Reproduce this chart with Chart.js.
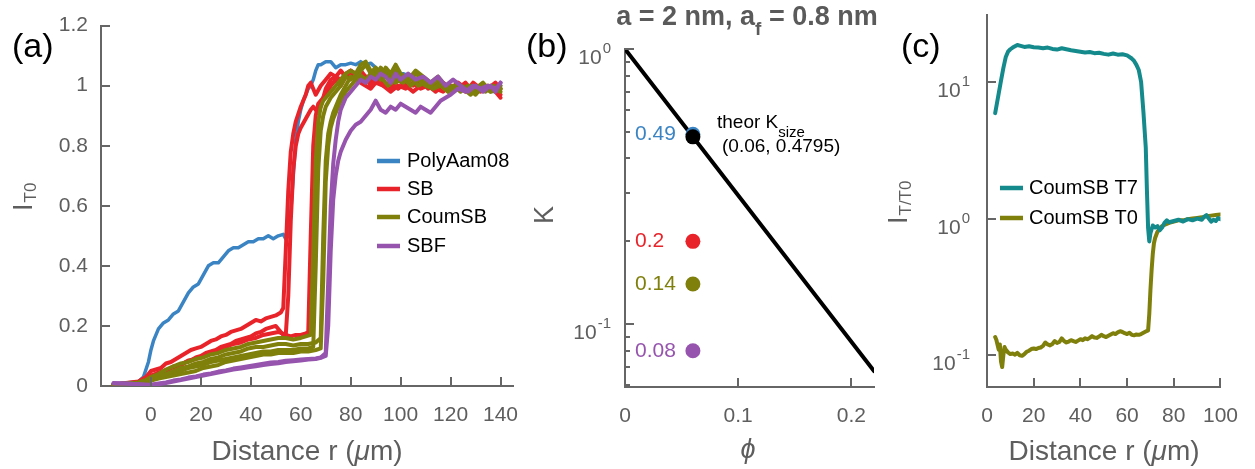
<!DOCTYPE html>
<html>
<head>
<meta charset="utf-8">
<script src="https://cdn.jsdelivr.net/npm/chart.js@4.4.1/dist/chart.umd.min.js"></script>
<style>
  html, body { margin: 0; padding: 0; background: #fff; }
  #wrap { position: relative; width: 1255px; height: 469px; }
  #wrap canvas { position: absolute; left: 0; top: 0; }
</style>
</head>
<body>
<div id="wrap">
  <canvas id="panelA" width="1255" height="469"></canvas>
  <canvas id="panelB" width="1255" height="469"></canvas>
  <canvas id="panelC" width="1255" height="469"></canvas>
</div>
<script>
// ===== Estilo común =====
const FONT = '"Liberation Sans", Arial, Helvetica, sans-serif';
const AXIS_GREY = '#666666';
const TEXT_GREY = '#5e5e5e';

const colBlue = '#3b84c4';
const colRed = '#e8232a';
const colOlive = '#7f7f0c';
const colPurple = '#9654ae';
const colTeal = '#148a8c';

// ===== (a) perfiles normalizados I_T0 =====
const aXTicks = [0, 20, 40, 60, 80, 100, 120, 140];
const aYTicks = [0, 0.2, 0.4, 0.6, 0.8, 1, 1.2];
const aLabels = ['PolyAam08', 'SB', 'CoumSB', 'SBF'];
const aColors = [colBlue, colRed, colOlive, colPurple];

const polyX = [-15, -10, -5, -3, -1, 0, 1, 2, 3, 5, 7, 9, 11, 13, 15, 17, 19, 21, 23, 25, 27, 29, 31, 33, 35, 37, 39, 41, 43, 45, 47, 49, 51, 53,
  54, 55, 56, 57, 58, 59, 60, 61, 62, 63, 64, 65, 66, 67, 68, 70, 72, 74, 76, 78, 80, 82, 84, 86, 88, 90, 92,
  95, 98, 101, 104, 107, 110, 113, 116, 119, 122, 125, 128, 131, 134, 137, 140];
const polyY = [0.005, 0.01, 0.015, 0.03, 0.08, 0.12, 0.15, 0.17, 0.19,
  0.21, 0.22, 0.24, 0.25, 0.28, 0.31, 0.33, 0.34, 0.37, 0.40, 0.41, 0.41, 0.43, 0.45, 0.46, 0.46, 0.47, 0.48, 0.48, 0.49, 0.49, 0.50, 0.49, 0.50, 0.505,
  0.49, 0.50, 0.58, 0.70, 0.82, 0.88, 0.92, 0.95, 0.97, 0.99, 1.00, 1.02, 1.05, 1.07, 1.07,
  1.08, 1.08, 1.06, 1.07, 1.07, 1.075, 1.07, 1.08, 1.07, 1.075, 1.06, 1.05,
  1.04, 1.03, 1.04, 1.03, 1.02, 1.01, 1.00, 1.01, 0.99, 1.00, 0.99, 0.98, 1.00, 0.99, 0.98, 1.00];

const sb1X = [-15, -10, -5, -2, 0, 2, 4, 6, 8, 10, 12, 14, 16, 18, 20, 22, 24, 26, 28, 30, 32, 34, 36, 38, 40, 42, 44, 46, 48, 50, 52,
  53, 54, 55, 56, 57, 58, 60, 62, 63, 64, 65, 66, 68, 70, 72, 74, 76, 78, 80, 82, 84, 86, 88, 90,
  93, 96, 99, 102, 105, 108, 111, 114, 117, 120, 123, 126, 129, 132, 135, 138, 140];
const sb1Y = [0.005, 0.01, 0.015, 0.03,
  0.05, 0.055, 0.06, 0.075, 0.08, 0.09, 0.10, 0.11, 0.12, 0.125, 0.13, 0.14, 0.15, 0.155, 0.165, 0.17, 0.18, 0.185, 0.19, 0.20, 0.21, 0.22, 0.215, 0.225, 0.23, 0.235, 0.245,
  0.26, 0.45, 0.65, 0.78, 0.84, 0.88, 0.93, 0.97, 1.00, 1.01, 0.99, 0.97,
  1.00, 1.02, 1.04, 1.03, 1.05, 1.03, 1.05, 1.04, 1.02, 1.03, 1.00, 1.02,
  1.00, 1.01, 0.99, 1.01, 1.00, 1.02, 0.99, 1.00, 1.01, 0.99, 1.00, 0.98, 1.01, 0.99, 1.00, 0.98, 0.97];

const sb2X = [-15, -10, -5, -2, 0, 2, 4, 6, 8, 10, 12, 14, 16, 18, 20, 22, 24, 26, 28, 30, 32, 34, 36, 38, 40, 42, 44, 46, 48, 50, 52,
  53, 54, 55, 56, 57, 58, 59, 60, 62, 64, 65, 66, 67, 68, 69, 70, 72, 74, 76, 78, 80, 82, 84, 86, 88, 90,
  93, 96, 99, 102, 105, 108, 111, 114, 117, 120, 123, 126, 129, 132, 135, 138, 140];
const sb2Y = [0.005, 0.008, 0.012, 0.02,
  0.035, 0.04, 0.045, 0.05, 0.06, 0.065, 0.07, 0.08, 0.085, 0.095, 0.10, 0.11, 0.115, 0.12, 0.13, 0.135, 0.14, 0.15, 0.155, 0.16, 0.165, 0.175, 0.18, 0.19, 0.195, 0.20, 0.18,
  0.17, 0.17, 0.30, 0.55, 0.72, 0.80, 0.84, 0.86, 0.89, 0.92, 0.93, 0.92, 0.91, 0.93, 0.96, 0.99,
  1.02, 1.03, 1.02, 1.04, 1.05, 1.03, 1.01, 1.00, 0.99, 1.01,
  1.00, 0.98, 1.00, 0.99, 1.01, 0.99, 1.00, 0.98, 1.00, 0.99, 1.01, 0.99, 1.00, 0.98, 0.99, 0.98, 0.96];

const sb3X = [-15, -10, -5, -2, 0, 3, 6, 9, 12, 15, 18, 21, 24, 27, 30, 33, 36, 39, 42, 45, 48, 51, 54,
  56, 58, 60, 62, 63, 64, 65, 66, 67, 68, 70, 72, 74, 76, 78, 80, 82, 84, 86, 88, 90,
  93, 96, 99, 102, 105, 108, 111, 114, 117, 120, 123, 126, 129, 132, 135, 138, 140];
const sb3Y = [0.005, 0.008, 0.01, 0.02,
  0.03, 0.045, 0.05, 0.065, 0.07, 0.085, 0.09, 0.10, 0.11, 0.12, 0.13, 0.14, 0.145, 0.155, 0.16, 0.17, 0.175, 0.18, 0.17,
  0.165, 0.17, 0.17, 0.175, 0.18, 0.50, 0.80, 0.90, 0.94, 0.95,
  0.97, 1.00, 1.02, 1.00, 1.03, 1.04, 1.02, 1.05, 1.03, 1.01, 1.03,
  1.01, 0.99, 1.02, 1.00, 0.98, 1.00, 1.01, 0.99, 0.98, 1.00, 0.99, 1.01, 0.98, 1.00, 0.99, 1.01, 0.99];

const coum1X = [-15, -10, -5, -2, 0, 3, 6, 9, 12, 15, 18, 21, 24, 27, 30, 33, 36, 39, 42, 45, 48, 51, 54, 57, 60,
  62, 64, 65, 66, 67, 68, 69, 70, 72, 74, 76, 78, 80, 82, 84, 86, 88, 90, 92, 94, 96, 98, 100,
  103, 106, 109, 112, 115, 118, 121, 124, 127, 130, 133, 136, 140];
const coum1Y = [0.005, 0.008, 0.012, 0.02,
  0.03, 0.04, 0.055, 0.065, 0.075, 0.08, 0.09, 0.095, 0.105, 0.11, 0.12, 0.125, 0.13, 0.14, 0.145, 0.15, 0.155, 0.16, 0.16, 0.155, 0.16,
  0.165, 0.17, 0.45, 0.75, 0.88, 0.93, 0.95, 0.96,
  0.98, 1.00, 1.02, 1.04, 1.05, 1.04, 1.07, 1.08, 1.05, 1.03, 1.06, 1.04, 1.02, 1.05, 1.03,
  1.01, 1.04, 1.02, 1.00, 1.02, 0.99, 1.00, 0.98, 1.00, 0.99, 1.01, 0.98, 0.99];

const coum2X = [-15, -10, -5, -2, 0, 3, 6, 9, 12, 15, 18, 21, 24, 27, 30, 33, 36, 39, 42, 45, 48, 51, 54, 57, 60, 63, 66,
  68, 69, 70, 71, 72, 73, 74, 76, 78, 80, 82, 84, 86, 88, 90, 92, 94, 96, 98, 100,
  103, 106, 109, 112, 115, 118, 121, 124, 127, 130, 133, 136, 140];
const coum2Y = [0.005, 0.008, 0.01, 0.015,
  0.025, 0.035, 0.04, 0.05, 0.06, 0.065, 0.075, 0.08, 0.09, 0.095, 0.105, 0.11, 0.115, 0.125, 0.13, 0.13, 0.135, 0.14, 0.14, 0.135, 0.14, 0.14, 0.145,
  0.16, 0.50, 0.75, 0.84, 0.88, 0.91, 0.93,
  0.97, 1.00, 1.03, 1.02, 1.05, 1.07, 1.04, 1.06, 1.03, 1.06, 1.04, 1.07, 1.04,
  1.02, 1.05, 1.03, 1.01, 1.03, 1.00, 0.98, 1.00, 0.99, 0.97, 1.00, 0.98, 1.00];

const coum3X = [-15, -10, -5, -2, 0, 3, 6, 9, 12, 15, 18, 21, 24, 27, 30, 33, 36, 39, 42, 45, 48, 51, 54, 57, 60, 63,
  65, 66, 67, 68, 69, 70, 72, 74, 76, 78, 80,
  83, 86, 89, 92, 95, 98, 101, 104, 107, 110, 113, 116, 119, 122, 125, 128, 131, 134, 137, 140];
const coum3Y = [0.005, 0.008, 0.01, 0.015,
  0.02, 0.03, 0.035, 0.045, 0.05, 0.06, 0.065, 0.07, 0.08, 0.085, 0.09, 0.095, 0.10, 0.105, 0.11, 0.115, 0.115, 0.12, 0.12, 0.12, 0.125, 0.125,
  0.13, 0.40, 0.72, 0.85, 0.90, 0.93,
  0.96, 0.98, 1.00, 1.03, 1.02,
  1.04, 1.02, 1.05, 1.02, 1.04, 1.01, 1.03, 1.00, 1.02, 1.00, 0.99, 1.01, 0.98, 1.00, 0.99, 1.00, 0.98, 1.00, 0.99, 0.98];

const coum4X = [-15, -10, -5, -2, 0, 3, 6, 9, 12, 15, 18, 21, 24, 27, 30, 33, 36, 39, 42, 45, 48, 51, 54, 57, 60, 63, 66,
  68, 69, 70, 71, 72, 73, 74, 76, 78, 80,
  83, 86, 89, 92, 95, 98, 101, 104, 107, 110, 113, 116, 119, 122, 125, 128, 131, 134, 137, 140];
const coum4Y = [0.004, 0.006, 0.008, 0.012,
  0.018, 0.025, 0.03, 0.035, 0.04, 0.045, 0.05, 0.06, 0.065, 0.07, 0.08, 0.085, 0.09, 0.095, 0.10, 0.105, 0.105, 0.11, 0.11, 0.11, 0.115, 0.115, 0.12,
  0.125, 0.35, 0.68, 0.80, 0.86, 0.89, 0.91, 0.95, 0.98, 1.00,
  1.03, 1.01, 1.04, 1.03, 1.00, 1.02, 1.01, 1.03, 1.00, 1.01, 0.99, 1.00, 0.98, 1.00, 0.99, 0.97, 0.99, 0.98, 1.00, 0.99];

const sbf1X = [-15, -10, -5, -2, 0, 3, 6, 9, 12, 15, 18, 21, 24, 27, 30, 33, 36, 39, 42, 45, 48, 51, 54, 57, 60, 63, 66,
  68, 70, 71, 72, 73, 74, 75, 76, 78, 80, 82, 84, 86, 88, 90, 92, 94, 96, 98, 100,
  103, 106, 109, 112, 115, 118, 121, 124, 127, 130, 133, 136, 138, 140];
const sbf1Y = [0.008, 0.008, 0.006, 0.004,
  0.004, 0.008, 0.012, 0.018, 0.022, 0.028, 0.032, 0.038, 0.042, 0.048, 0.052, 0.058, 0.062, 0.066, 0.070, 0.074, 0.078, 0.080, 0.084, 0.086, 0.088, 0.090, 0.092,
  0.095, 0.11, 0.35, 0.60, 0.74, 0.82, 0.88, 0.92,
  0.96, 0.98, 1.00, 1.02, 1.01, 1.03, 1.02, 1.04, 1.03, 1.01, 1.04, 1.02,
  1.04, 1.02, 1.03, 1.01, 1.03, 1.00, 1.02, 1.00, 0.98, 1.00, 0.98, 1.00, 0.98, 1.01];

const sbf2X = [-15, -10, -5, -2, 0, 3, 6, 9, 12, 15, 18, 21, 24, 27, 30, 33, 36, 39, 42, 45, 48, 51, 54, 57, 60, 63, 66,
  68, 70, 71, 72, 73, 74, 75, 76, 77, 78,
  80, 82, 84, 86, 88, 90, 92, 94, 96, 98, 100, 102, 104, 106, 108, 110, 112, 114, 116, 118, 120,
  123, 126, 129, 132, 135, 138, 140];
const sbf2Y = [0.01, 0.008, 0.006, 0.004,
  0.003, 0.006, 0.01, 0.015, 0.02, 0.025, 0.03, 0.035, 0.04, 0.045, 0.05, 0.055, 0.058, 0.062, 0.066, 0.07, 0.073, 0.076, 0.08, 0.082, 0.085, 0.088, 0.09,
  0.094, 0.10, 0.20, 0.45, 0.62, 0.70, 0.75, 0.78, 0.80, 0.82,
  0.85, 0.87, 0.88, 0.90, 0.92, 0.95, 0.92, 0.91, 0.93, 0.92, 0.94, 0.93, 0.92, 0.91, 0.93, 0.92, 0.91, 0.93, 0.95, 0.96, 0.97,
  0.99, 0.98, 1.00, 0.99, 1.00, 0.99, 1.01];

// ===== (b) coeficiente de partición K frente a phi =====
const bXTicks = [0, 0.1, 0.2];
const bYMajor = [0.1, 1];
const bYMinor = [0.06, 0.07, 0.08, 0.09, 0.2, 0.3, 0.4, 0.5, 0.6, 0.7, 0.8, 0.9];
const bLinePhi = [0, 0.22];
const bLineK = [1, 0.0675];
const bPhi = [0.06, 0.06, 0.06, 0.06];
const bK = [0.49, 0.2, 0.14, 0.08];
const bColors = [colBlue, colRed, colOlive, colPurple];
const theorPhi = 0.06;
const theorK = 0.4795;

// ===== (c) CoumSB T7 / T0 =====
const cXTicks = [0, 20, 40, 60, 80, 100];
const cYMajor = [0.1, 1, 10];
const cLabels = ['CoumSB T7', 'CoumSB T0'];
const cColors = [colTeal, colOlive];

const t7X = [3.5, 5, 6, 7, 8, 9, 10, 11, 12, 13, 14,
  16, 18, 20, 22, 24, 26, 28, 30, 32, 34, 36, 38, 40, 42, 44, 46, 48, 50, 52, 54, 56, 58, 60, 62,
  63, 64, 65, 66, 67, 68, 68.5, 69, 69.5, 70, 71, 72, 73, 74, 75, 76, 77, 78,
  80, 82, 84, 86, 88, 90, 92, 93, 94, 95, 96, 97, 98, 99, 100];
const t7Y = [5.9, 8.2, 10.2, 12.6, 15.1, 16.6, 17.3, 17.8, 18.2, 18.6, 18.4,
  18.0, 18.2, 17.9, 17.8, 17.6, 17.8, 17.4, 17.2, 17.6, 17.3, 17.0, 16.8, 16.6, 16.4, 16.5, 16.2, 16.3, 16.0, 15.8, 16.1, 15.8, 15.9, 15.6, 14.8,
  14.2, 13.3, 12.2, 10.0, 6.0, 3.3, 1.6, 0.85, 0.68, 0.78, 0.89, 0.86, 0.88, 0.82, 0.86, 0.93, 0.97, 0.94,
  0.96, 0.98, 0.95, 0.99, 0.97, 1.00, 0.98, 1.03, 1.06, 1.00, 0.95, 0.98, 0.96, 1.01, 0.99];

const t0X = [3.5, 4, 5, 5.5, 6, 6.5, 7, 7.5, 8,
  9, 10, 11, 12, 13, 14, 15, 16, 17, 18, 19, 20, 21, 22, 23, 24, 25, 26, 27, 28, 29, 30,
  31, 32, 33, 34, 35, 36, 37, 38, 39, 40, 41, 42, 43, 44, 45, 46, 47, 48, 49, 50,
  51, 52, 53, 54, 55, 56, 57, 58, 59, 60, 61, 62, 63, 64, 65, 66, 67, 68, 69,
  69.5, 70, 70.5, 71, 71.5, 72, 73, 74, 75, 76,
  78, 80, 82, 84, 86, 88, 90, 92, 94, 96, 98, 100];
const t0Y = [0.136, 0.13, 0.11, 0.12, 0.09, 0.082, 0.10, 0.115, 0.11,
  0.105, 0.102, 0.103, 0.101, 0.104, 0.10, 0.099, 0.102, 0.106, 0.108, 0.111, 0.112,
  0.111, 0.113, 0.114, 0.117, 0.124, 0.12, 0.118, 0.121, 0.127, 0.123,
  0.125, 0.133, 0.127, 0.124, 0.126, 0.129, 0.127, 0.125, 0.128, 0.131,
  0.129, 0.133, 0.131, 0.134, 0.138, 0.135, 0.134, 0.137, 0.141, 0.138,
  0.136, 0.139, 0.142, 0.145, 0.143, 0.147, 0.15, 0.148, 0.145, 0.143,
  0.146, 0.141, 0.14, 0.142, 0.141, 0.143, 0.146, 0.149, 0.152,
  0.2, 0.3, 0.42, 0.55, 0.66, 0.72, 0.8, 0.85, 0.88, 0.9,
  0.93, 0.95, 0.97, 0.97, 0.99, 1.0, 1.01, 1.02, 1.04, 1.05, 1.06, 1.07];

// ===== Utilidades =====
const pts = (xs, ys) => xs.map((x, i) => ({ x, y: ys[i] }));
const font = (size, style = '') => `${style} ${size}px ${FONT}`.trim();

// caja del área de trazado: el eje y ocupa 60px y el eje x 40px
function frame(left, top, right, bottom) {
  return { left: left - 60, top, right: 1255 - right, bottom: 469 - bottom - 40 };
}

function put(ctx, s, x, y, size, color, align = 'left', style = '', baseline = 'alphabetic') {
  ctx.font = font(size, style);
  ctx.fillStyle = color;
  ctx.textAlign = align;
  ctx.textBaseline = baseline;
  ctx.fillText(s, x, y);
  return ctx.measureText(s).width;
}

function axisBase(isX) {
  return {
    grid: { display: false, drawTicks: false },
    border: { display: true, color: AXIS_GREY, width: 2 },
    afterFit: s => { if (isX) s.height = 40; else s.width = 60; }
  };
}

function linearAxis(isX, min, max, values, pad) {
  return Object.assign(axisBase(isX), {
    type: 'linear', min, max,
    afterBuildTicks: s => { s.ticks = values.map(v => ({ value: v })); },
    ticks: {
      color: TEXT_GREY, font: { family: FONT, size: 21 }, padding: pad,
      autoSkip: false, maxRotation: 0, callback: v => String(v)
    }
  });
}

function logAxis(min, max, values) {
  return Object.assign(axisBase(false), {
    type: 'logarithmic', min, max,
    afterBuildTicks: s => { s.ticks = values.map(v => ({ value: v })); },
    ticks: { display: false }
  });
}

function lineSet(xs, ys, color, order, width = 4) {
  return { data: pts(xs, ys), borderColor: color, borderWidth: width, pointRadius: 0, fill: false, order };
}

// marcas de los ejes hacia dentro (estilo MATLAB)
function inwardTicks(cfg) {
  return {
    id: 'inwardTicks',
    afterDraw(chart) {
      const { ctx, chartArea: a } = chart;
      const xs = chart.scales.x, ys = chart.scales.y;
      const segs = [];
      cfg.x.forEach(v => {
        const px = Math.round(xs.getPixelForValue(v));
        segs.push([px, a.bottom, px, a.bottom - cfg.len]);
      });
      cfg.y.forEach(v => {
        const py = Math.round(ys.getPixelForValue(v));
        segs.push([a.left, py, a.left + cfg.len, py]);
      });
      (cfg.yMinor || []).forEach(v => {
        const py = Math.round(ys.getPixelForValue(v));
        segs.push([a.left, py, a.left + cfg.minorLen, py]);
      });
      ctx.save();
      ctx.strokeStyle = AXIS_GREY;
      ctx.lineWidth = 2;
      segs.forEach(([x0, y0, x1, y1]) => {
        ctx.beginPath();
        ctx.moveTo(x0, y0);
        ctx.lineTo(x1, y1);
        ctx.stroke();
      });
      ctx.restore();
    }
  };
}

function baseOptions(box) {
  return {
    responsive: false,
    animation: false,
    events: [],
    layout: { padding: box },
    elements: { line: { tension: 0, borderJoinStyle: 'round', borderCapStyle: 'round' } },
    plugins: { legend: { display: false }, tooltip: { enabled: false } }
  };
}

function distanceLabel(ctx, cx, base) {
  const parts = [['Distance r (', ''], ['\u03bc', 'italic'], ['m)', '']];
  let w = 0;
  parts.forEach(([s, st]) => { ctx.font = font(28, st); w += ctx.measureText(s).width; });
  let x = cx - w / 2;
  parts.forEach(([s, st]) => { x += put(ctx, s, x, base, 28, TEXT_GREY, 'left', st); });
}

function rotatedISub(ctx, x, y, sub) {
  ctx.save();
  ctx.translate(x, y);
  ctx.rotate(-Math.PI / 2);
  const w = put(ctx, 'I', 0, 0, 27, TEXT_GREY);
  put(ctx, sub, w + 1, 4, 17, TEXT_GREY);
  ctx.restore();
}

function drawLegend(ctx, x0, x1, tx, labels, colors, rows) {
  labels.forEach((lab, i) => {
    ctx.save();
    ctx.strokeStyle = colors[i];
    ctx.lineWidth = 4.5;
    ctx.beginPath();
    ctx.moveTo(x0, rows[i]); ctx.lineTo(x1, rows[i]);
    ctx.stroke();
    ctx.restore();
    put(ctx, lab, tx, rows[i], 20, '#000', 'left', '', 'middle');
  });
}

// etiqueta 10^n alineada a la derecha
function powLabel(ctx, xRight, yTick, exp) {
  ctx.font = font(15);
  const w = ctx.measureText(exp).width;
  put(ctx, exp, xRight, yTick + 4, 15, TEXT_GREY, 'right');
  put(ctx, '10', xRight - w - 1, yTick + 15, 21, TEXT_GREY, 'right');
}

// ===== Panel (a) =====
const textA = {
  id: 'textA',
  afterDraw(chart) {
    const ctx = chart.ctx;
    put(ctx, '(a)', 12, 57, 34, '#000');
    distanceLabel(ctx, 307, 460);
    rotatedISub(ctx, 32, 211, 'T0');
    drawLegend(ctx, 377, 400, 407, aLabels, aColors, [161, 189, 217, 246]);
  }
};

const optsA = baseOptions(frame(101, 15, 513, 386));
optsA.scales = {
  x: linearAxis(true, -20, 145, aXTicks, 17),
  y: linearAxis(false, 0, 1.2, aYTicks, 13)
};

new Chart(document.getElementById('panelA'), {
  type: 'line',
  data: {
    datasets: [
      lineSet(polyX, polyY, colBlue, 4, 3.5),
      lineSet(sb1X, sb1Y, colRed, 3),
      lineSet(sb2X, sb2Y, colRed, 3),
      lineSet(sb3X, sb3Y, colRed, 3),
      lineSet(coum1X, coum1Y, colOlive, 2),
      lineSet(coum2X, coum2Y, colOlive, 2),
      lineSet(coum3X, coum3Y, colOlive, 2),
      lineSet(coum4X, coum4Y, colOlive, 2),
      lineSet(sbf1X, sbf1Y, colPurple, 1),
      lineSet(sbf2X, sbf2Y, colPurple, 1)
    ]
  },
  options: optsA,
  plugins: [inwardTicks({ x: aXTicks, y: aYTicks, len: 9 }), textA]
});

// ===== Panel (b) =====
const textB = {
  id: 'textB',
  afterDraw(chart) {
    const { ctx, scales: { y } } = chart;
    put(ctx, '(b)', 526, 57, 34, '#000');

    // título con subíndice
    const parts = [['a = 2 nm, a', 27, 0], ['f', 19, 10], [' = 0.8 nm', 27, 0]];
    let w = 0;
    parts.forEach(([s, sz]) => { ctx.font = font(sz, 'bold'); w += ctx.measureText(s).width; });
    let x = 747 - w / 2;
    parts.forEach(([s, sz, dy]) => { x += put(ctx, s, x, 25 + dy, sz, '#5a5a5a', 'left', 'bold'); });

    bK.forEach((k, i) => put(ctx, String(k), 635, y.getPixelForValue(k), 21, bColors[i], 'left', '', 'middle'));

    const wt = put(ctx, 'theor K', 717, 128, 19, '#000');
    put(ctx, 'size', 717 + wt, 137, 15, '#000');
    put(ctx, `(${theorPhi}, ${theorK})`, 722, 152, 19, '#000');

    bYMajor.forEach(v => powLabel(ctx, 611, y.getPixelForValue(v), String(Math.round(Math.log10(v)))));

    put(ctx, '\u03d5', 748, 458, 27, TEXT_GREY, 'center', 'italic');
    ctx.save();
    ctx.translate(553, 215);
    ctx.rotate(-Math.PI / 2);
    put(ctx, 'K', 0, 0, 27, TEXT_GREY, 'center');
    ctx.restore();
  }
};

const optsB = baseOptions(frame(625, 49, 874, 387));
optsB.scales = {
  x: linearAxis(true, 0, 0.22, bXTicks, 17),
  y: logAxis(0.0591, 1, bYMajor)
};

new Chart(document.getElementById('panelB'), {
  type: 'line',
  data: {
    datasets: [
      lineSet(bLinePhi, bLineK, '#000', 2, 4),
      {
        data: pts(bPhi, bK), showLine: false, order: 1,
        pointRadius: 7.5, pointBorderWidth: 0, pointBackgroundColor: bColors
      },
      {
        data: [{ x: theorPhi, y: theorK }], showLine: false, order: 0,
        pointRadius: 7.5, pointBorderWidth: 0, pointBackgroundColor: '#000'
      }
    ]
  },
  options: optsB,
  plugins: [inwardTicks({ x: bXTicks, y: bYMajor, yMinor: bYMinor, len: 9, minorLen: 5 }), textB]
});

// ===== Panel (c) =====
const textC = {
  id: 'textC',
  afterDraw(chart) {
    const { ctx, scales: { y } } = chart;
    put(ctx, '(c)', 901, 57, 34, '#000');
    distanceLabel(ctx, 1104, 460);
    rotatedISub(ctx, 907, 224, 'T/T0');
    drawLegend(ctx, 1000, 1023, 1029, cLabels, cColors, [188, 218]);
    cYMajor.forEach(v => powLabel(ctx, 970, y.getPixelForValue(v), String(Math.round(Math.log10(v)))));
  }
};

const optsC = baseOptions(frame(987, 15, 1224, 387));
optsC.scales = {
  x: linearAxis(true, 0, 100, cXTicks, 17),
  y: logAxis(0.0586, 30.8, cYMajor)
};

new Chart(document.getElementById('panelC'), {
  type: 'line',
  data: {
    datasets: [
      lineSet(t7X, t7Y, colTeal, 0, 4),
      lineSet(t0X, t0Y, colOlive, 1, 4)
    ]
  },
  options: optsC,
  plugins: [inwardTicks({ x: cXTicks, y: cYMajor, len: 9 }), textC]
});
</script>
</body>
</html>
